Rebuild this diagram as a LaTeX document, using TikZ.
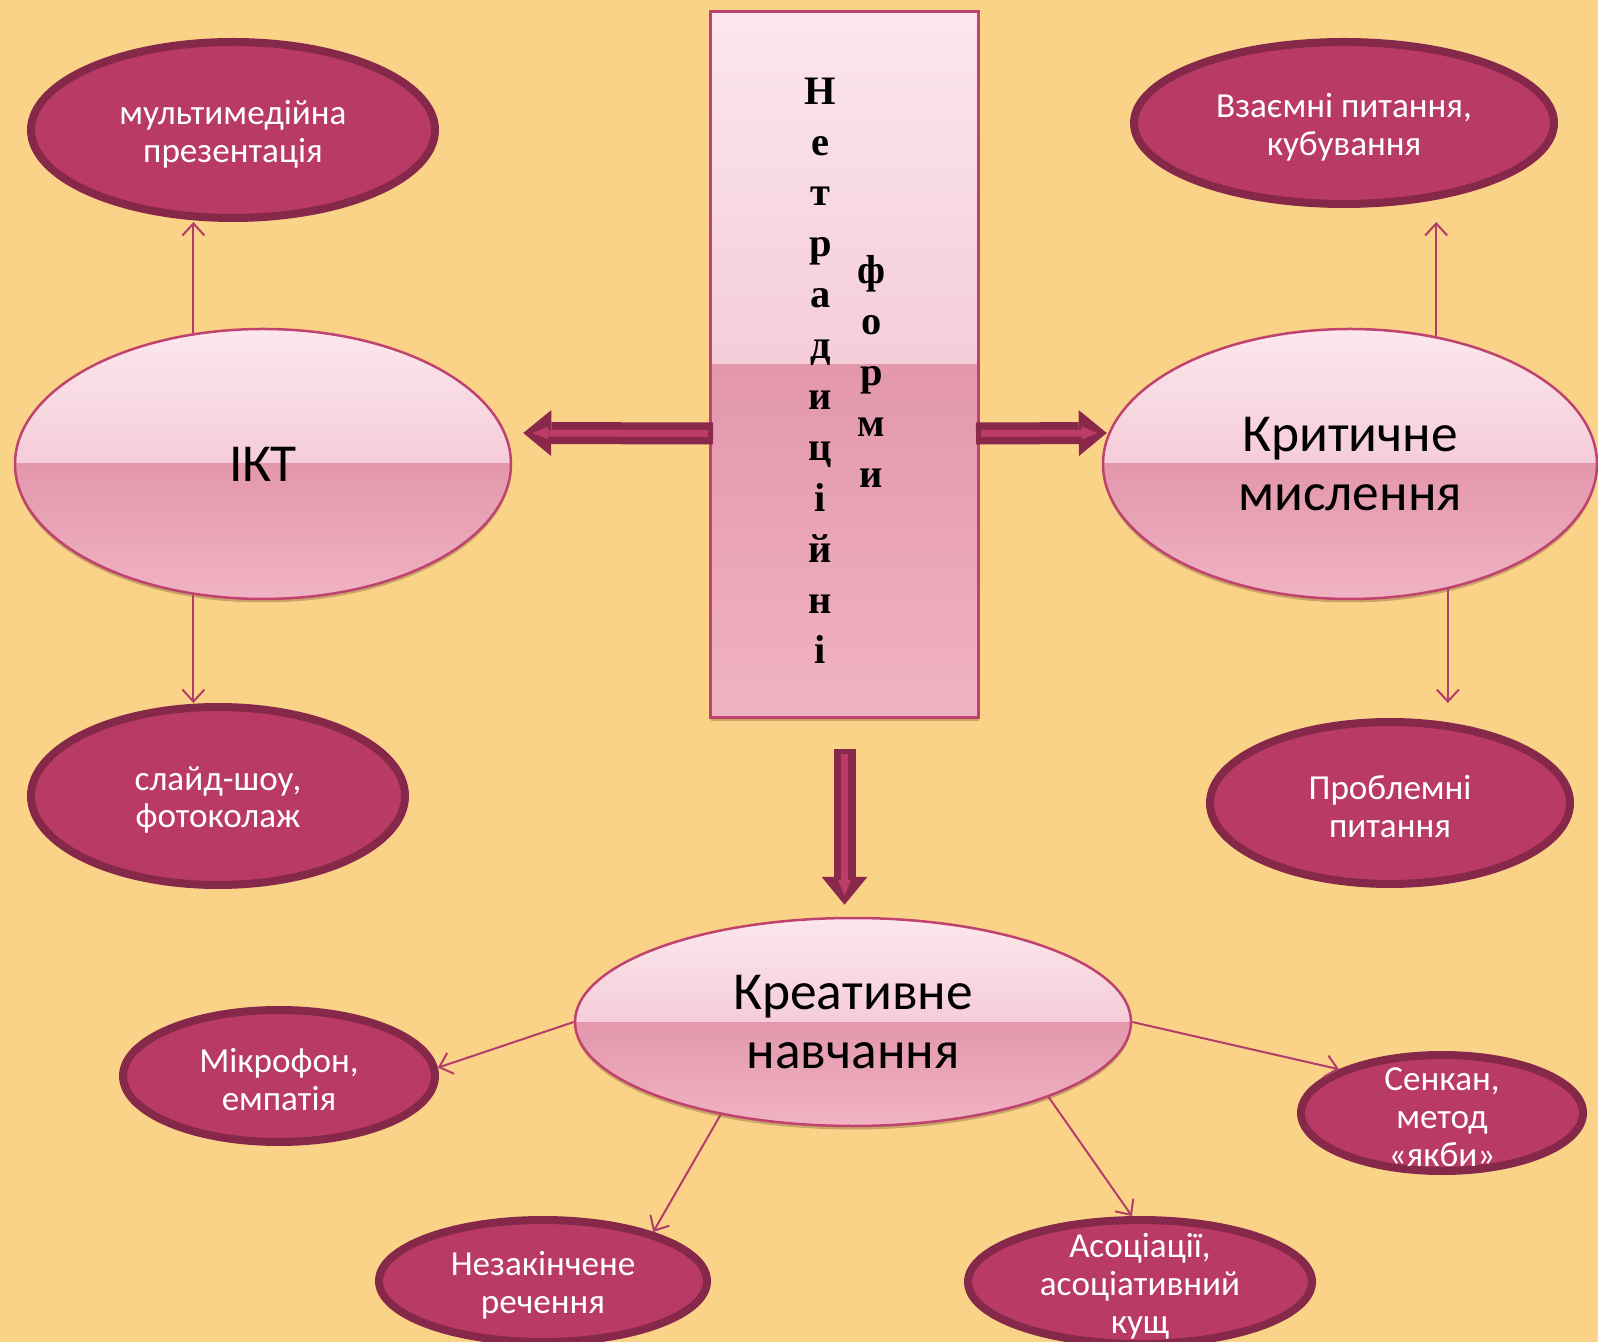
\documentclass[tikz,border=0pt]{standalone}
\usepackage{fontspec}
\setmainfont{Carlito}
\newfontfamily\vertfont{Liberation Serif}
\usetikzlibrary{shapes.geometric, arrows.meta, calc, positioning, shadows}

\definecolor{bgyellow}{RGB}{250,211,136}
\definecolor{ellfill}{RGB}{185,58,102}
\definecolor{ellline}{RGB}{134,40,74}
\definecolor{glossline}{RGB}{192,66,110}
\definecolor{glosstop}{RGB}{252,231,237}
\definecolor{glossmid}{RGB}{237,178,195}
\definecolor{glosslow}{RGB}{227,151,172}
\definecolor{glossbase}{RGB}{240,179,195}
\definecolor{linkcol}{RGB}{180,60,106}
\definecolor{arrowdark}{RGB}{137,40,75}
\definecolor{arrowpink}{RGB}{187,60,104}

\tikzset{
  glossy fill/.style={
    path picture={
      \fill[top color=glosstop, middle color=glossmid!72!glosstop, bottom color=glossmid]
        (path picture bounding box.north west) rectangle (path picture bounding box.east);
      \fill[top color=glosslow, bottom color=glossbase]
        (path picture bounding box.west) rectangle (path picture bounding box.south east);
    }},
  soft shadow/.style={drop shadow={shadow xshift=0mm, shadow yshift=-0.35mm,
    opacity=0.3, fill=black!55!brown}},
  glossy ell/.style 2 args={
    ellipse, soft shadow, glossy fill, draw=glossline, line width=0.25mm, inner sep=0pt,
    minimum width={(2*#1-2)*0.1mm}, minimum height={(2*#2-2)*0.1mm},
    align=center, font=\fontsize{15.2}{16.8}\selectfont
  },
  dark ell/.style 2 args={
    ellipse, fill=ellfill, draw=ellline, line width=0.8mm, inner sep=0pt,
    minimum width={(2*#1-8)*0.1mm}, minimum height={(2*#2-8)*0.1mm}
  },
  ell text/.style={text=white, align=center, inner sep=0pt, yshift=-0.4mm,
    font=\fontsize{10}{10.8}\selectfont},
  vert text/.style={align=center, inner sep=0pt, font=\vertfont\bfseries\fontsize{11.5}{14.48}\selectfont},
  thin arrow/.style={draw=linkcol, line width=0.2mm, -{Straight Barb[length=1.2mm, width=2.2mm]}},
  big arrow/.style={draw=arrowdark, line width=2.2mm,
    -{Triangle[length=2.8mm, width=4.6mm, line width=0pt]},
    postaction={draw=arrowpink, line width=0.7mm, shorten <=0.5mm, shorten >=0.9mm,
      -{Triangle[length=1.6mm, width=1.3mm, line width=0pt]}}}
}

\begin{document}
\begin{tikzpicture}[x=0.1mm, y=-0.1mm]
  \fill[bgyellow] (0,0) rectangle (1598,1342);
  \useasboundingbox (0,0) rectangle (1598,1342);

  % central block
  \node[rectangle, soft shadow, glossy fill, draw=glossline, line width=0.3mm,
    minimum width=26.8mm, minimum height=70.6mm] (forms) at (844.5,364.5) {};
  \node[vert text, anchor=north] (vt1) at ($(forms.north)+(-24,67)$)
    {Н\\е\\т\\р\\а\\д\\и\\ц\\і\\й\\н\\і};
  \node[vert text, anchor=north] (vt2) at ($(forms.north)+(27,245)$)
    {ф\\о\\р\\м\\и};

  % main ellipses
  \node[glossy ell={249}{136}] (ikt) at (263,464) {ІКТ};
  \node[glossy ell={248}{136}] (krit) at (1350,464) {Критичне\\мислення};
  \node[glossy ell={279}{105}] (kreat) at (853,1022) {Креативне\\навчання};

  % small ellipses
  \node[dark ell={206}{92}, label={[ell text]center:{мультимедійна\\презентація}}] (multi) at (233,130) {};
  \node[dark ell={191}{93}, label={[ell text]center:{слайд-шоу,\\фотоколаж}}] (slide) at (218,796) {};
  \node[dark ell={214}{85}, label={[ell text]center:{Взаємні питання,\\кубування}}] (vz) at (1344,123) {};
  \node[dark ell={184}{85}, label={[ell text]center:{Проблемні\\питання}}] (probl) at (1390,803) {};
  \node[dark ell={160}{70}, label={[ell text]center:{Мікрофон,\\емпатія}}] (mikro) at (279,1076) {};
  \node[dark ell={168}{65}, label={[ell text]center:{Незакінчене\\речення}}] (nezak) at (543,1281) {};
  \node[dark ell={176}{66}, label={[ell text]center:{Асоціації,\\асоціативний\\кущ}}] (asoc) at (1140,1282) {};
  \node[dark ell={145}{62}, label={[ell text]center:{Сенкан,\\метод\\«якби»}}] (senkan) at (1442,1113) {};

  % thick arrows
  \draw[big arrow] ($(forms.west)+(4,69)$) -- ($(ikt.east)+(11,-31)$);
  \draw[big arrow] ($(forms.east)+(-4,69)$) -- ($(krit.west)+(5,-31)$);
  \draw[big arrow] ($(forms.south)+(0,30)$) -- ($(forms.south |- kreat.north)+(0,-12)$);

  % thin arrows
  \draw[thin arrow] (ikt.118) -- (ikt.118 |- multi.south);
  \draw[thin arrow] (ikt.242) -- (ikt.242 |- slide.north);
  \draw[thin arrow] (krit.56) -- ($(krit.56 |- vz.south)+(0,14)$);
  \draw[thin arrow] (krit.308) -- ($(krit.308 |- probl.north)+(0,-15)$);
  \draw[thin arrow] (kreat.west) -- (mikro.3);
  \draw[thin arrow] (kreat.215) -- (nezak.24);
  \draw[thin arrow] (kreat.339) -- (asoc.97);
  \draw[thin arrow] (kreat.east) -- (senkan.157);
\end{tikzpicture}
\end{document}
